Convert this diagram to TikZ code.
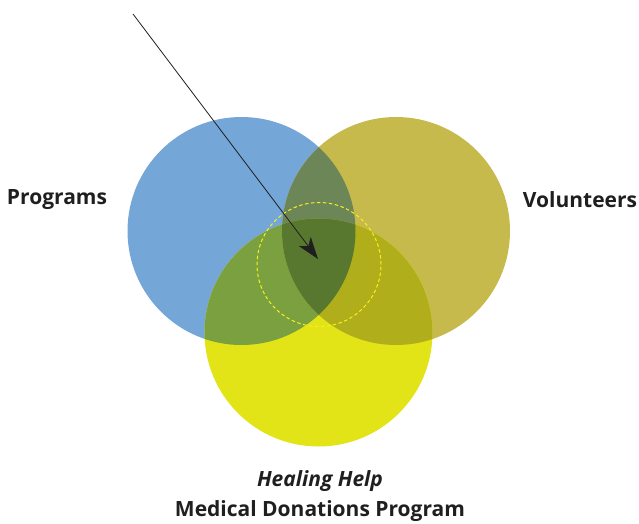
\documentclass[tikz,border=0pt]{standalone}
\usepackage{fontspec}
\setmainfont{Open Sans}
\usetikzlibrary{arrows.meta}
\definecolor{cblue}{RGB}{116,166,216}
\definecolor{colive}{RGB}{199,186,76}
\definecolor{cyellow}{RGB}{226,228,24}
\definecolor{cby}{RGB}{122,160,64}
\definecolor{coy}{RGB}{176,174,26}
\definecolor{cbo}{RGB}{108,134,88}
\definecolor{call}{RGB}{88,120,48}
\definecolor{cdash}{RGB}{245,240,30}
\begin{document}
\begin{tikzpicture}[x=1pt,y=-1pt,
  lbl/.style={font=\bfseries\fontsize{21}{24}\selectfont, text=black!88, inner sep=0pt},
  ring/.style={draw=cdash, dashed, dash pattern=on 3.5pt off 2.5pt, line width=1pt}]
\useasboundingbox (0,0) rectangle (639,523);
\def\rr{114}
\coordinate (B) at (241.5,231);
\coordinate (O) at (396,231);
\coordinate (Y) at (318.5,332.5);
% single circles
\fill[cblue] (B) circle (\rr);
\fill[colive] (O) circle (\rr);
\fill[cyellow] (Y) circle (\rr);
% pairwise overlaps
\begin{scope}\clip (B) circle (\rr); \fill[cbo] (O) circle (\rr); \end{scope}
\begin{scope}\clip (B) circle (\rr); \fill[cby] (Y) circle (\rr); \end{scope}
\begin{scope}\clip (O) circle (\rr); \fill[coy] (Y) circle (\rr); \end{scope}
\begin{scope}\clip (B) circle (\rr); \clip (O) circle (\rr); \fill[call] (Y) circle (\rr); \end{scope}
% dashed ring
\node[ring, circle, minimum size=124pt, inner sep=0pt] (ring) at (319,264.5) {};
% arrow
\coordinate (start) at (133,14);
\coordinate (tip) at (318,259);
\draw[line width=0.8pt, black!88, -{Stealth[length=22pt, width=15pt, inset=6pt]}] (start) -- (tip);
% labels
\node[lbl] (prog) at (57,200) {Programs};
\node[lbl] (vol) at (580,200) {Volunteers};
\node[lbl, font=\bfseries\itshape\fontsize{21}{24}\selectfont] (heal) at (320,481) {Healing Help};
\node[lbl] (med) at (320,511) {Medical Donations Program};
\end{tikzpicture}
\end{document}
